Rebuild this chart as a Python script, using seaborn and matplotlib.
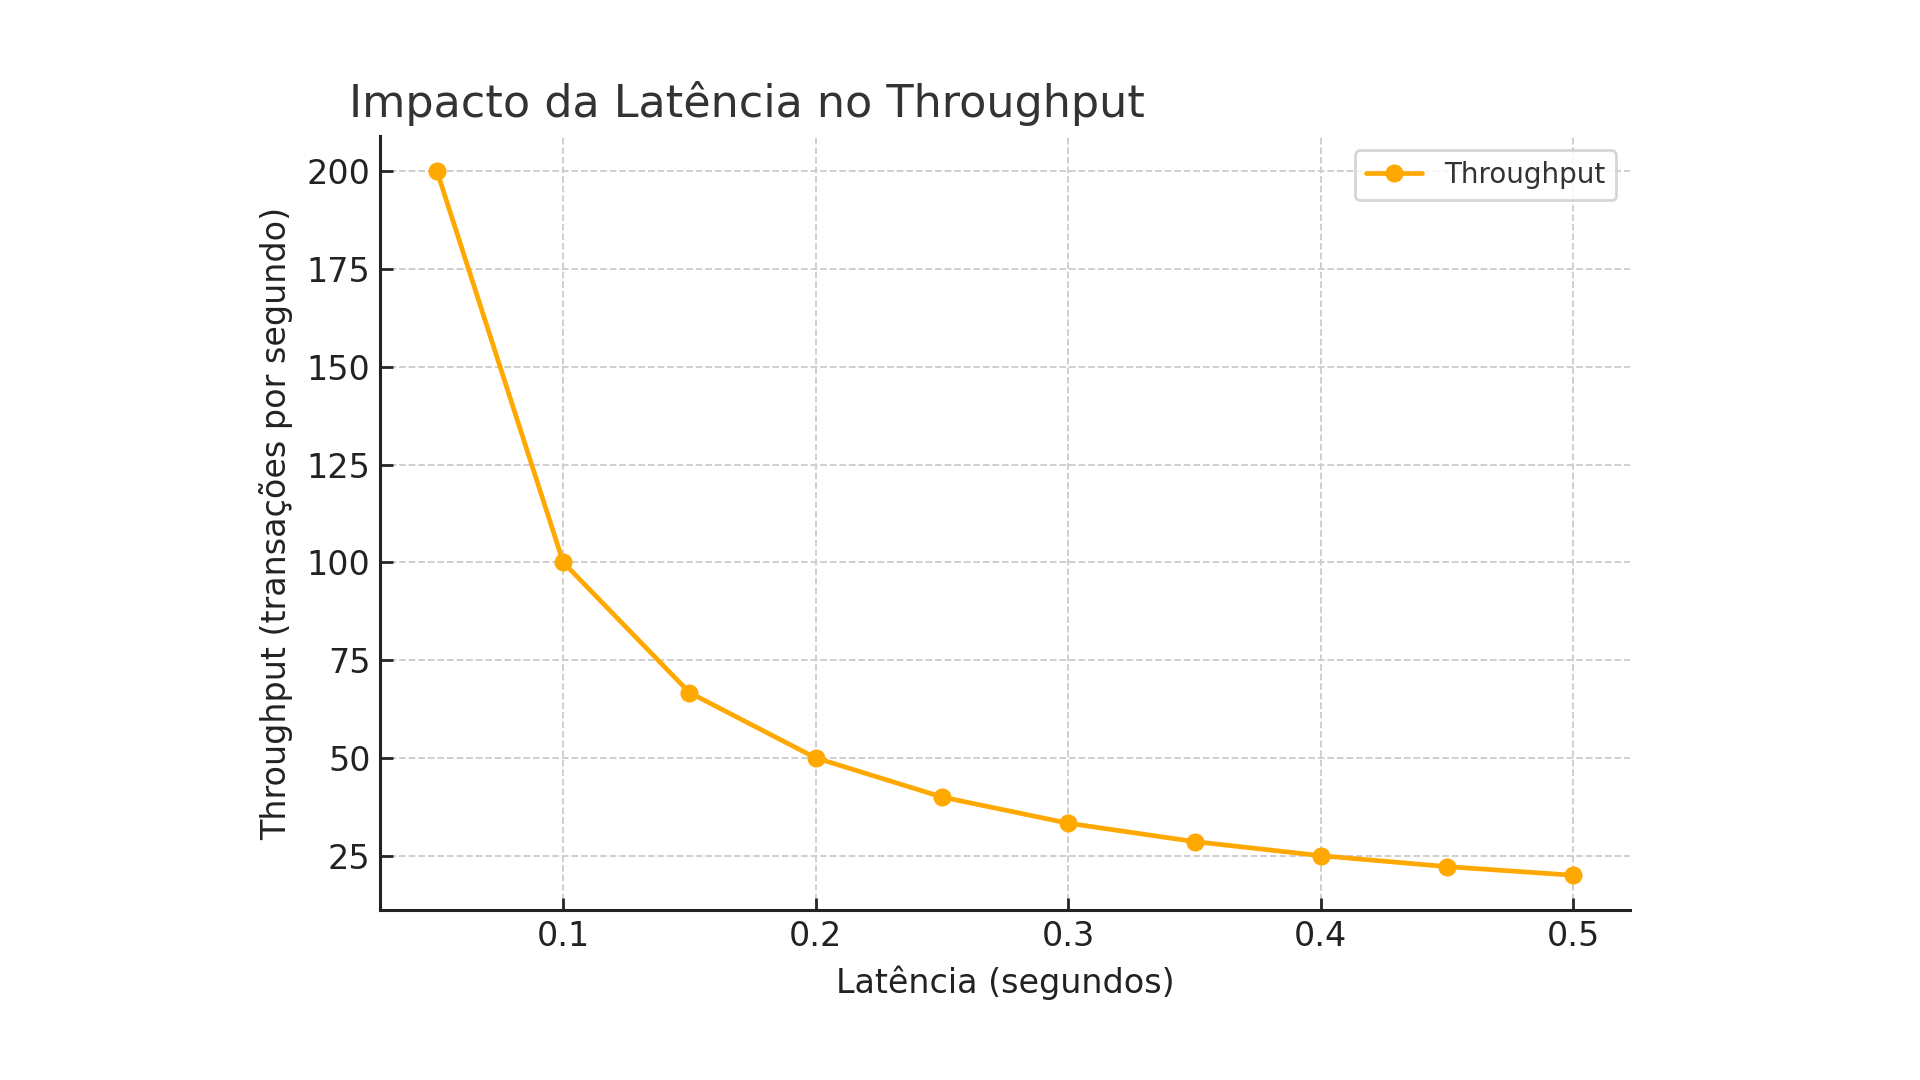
import matplotlib
matplotlib.use('Agg')
import matplotlib.pyplot as plt
import pandas as pd
import seaborn as sns

# Dados
latencia = [0.05, 0.10, 0.15, 0.20, 0.25, 0.30, 0.35, 0.40, 0.45, 0.50]
throughput = [200, 100, 66.7, 50, 40, 33.3, 28.6, 25, 22.2, 20]
serie = 'Throughput'

df = pd.DataFrame({'latencia': latencia, 'throughput': throughput})

sns.set_style('ticks')
plt.rcParams['font.family'] = ['DejaVu Sans']

fig = plt.figure(figsize=(19.2, 10.8), dpi=100)
ax = fig.add_axes([0.198, 0.157, 0.651, 0.717])

sns.lineplot(data=df, x='latencia', y='throughput', ax=ax, color='#FFA800',
             marker='o', markersize=13, markeredgewidth=0, linewidth=3.4,
             label=serie)

ax.grid(True, linestyle='--', color='#cccccc', linewidth=1.3)
ax.set_axisbelow(True)
sns.despine(ax=ax)
for s in ['left', 'bottom']:
    ax.spines[s].set_linewidth(2.2)
    ax.spines[s].set_color('#222222')

ax.set_xticks([0.1, 0.2, 0.3, 0.4, 0.5])
ax.set_yticks([25, 50, 75, 100, 125, 150, 175, 200])
ax.tick_params(direction='in', length=9, width=2, labelsize=24,
               labelcolor='#222222', pad=7)

ax.set_xlabel('Latência (segundos)', fontsize=24, color='#222222', labelpad=9)
ax.set_ylabel('Throughput (transações por segundo)', fontsize=24,
              color='#222222', labelpad=10)
ax.set_title('Impacto da Latência no Throughput', fontsize=32, color='#333333',
             loc='left', x=-0.025, pad=14)

leg = ax.legend(loc='upper right', fontsize=20, frameon=True, borderpad=0.4,
                handlelength=2.0, borderaxespad=0.5)
leg.get_frame().set_edgecolor('#cccccc')
leg.get_frame().set_linewidth(2)
for t in leg.get_texts():
    t.set_color('#333333')

fig.savefig('out.png', dpi=100)
